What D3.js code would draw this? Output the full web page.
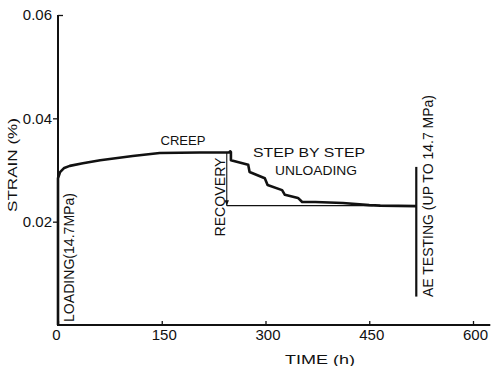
<!DOCTYPE html>
<html><head><meta charset="utf-8">
<script src="https://cdn.jsdelivr.net/npm/d3@7"></script>
<style>
body{margin:0;background:#fff}
svg text{font-family:"Liberation Sans",Arial,sans-serif;fill:#111}
</style>
</head><body>
<svg id="c" width="493" height="366"></svg>
<script>
// ---- data ----
const curveTime   = [0, 0, 3, 9, 17, 36, 61, 108, 147, 205, 247, 249, 250, 250, 275, 277, 299, 303, 324, 328, 347, 353, 372, 412, 450, 466, 518];
const curveStrain = [0, 0.0284, 0.0296, 0.0304, 0.0308, 0.0313, 0.0319, 0.0327, 0.0333, 0.0334, 0.0334, 0.0336, 0.0335, 0.0319, 0.0310, 0.0296, 0.0284, 0.0271, 0.0261, 0.0252, 0.0246, 0.0238, 0.0238, 0.0236, 0.0232, 0.0231, 0.0230];
const recoveryTime   = [244, 244];
const recoveryStrain = [0.0334, 0.0231];
const recoveredTime   = [244, 455];
const recoveredStrain = [0.0231, 0.0231];
const aeTime   = [518, 518];
const aeStrain = [0.0306, 0.0055];
const xTicks = [0, 150, 300, 450, 600];
const yTicks = [0.02, 0.04, 0.06];
const xDomain = [0, 600];
const yDomain = [0, 0.06];
const xAxisEnd = 625;

// ---- drawing ----
const svg = d3.select("#c");
const x = d3.scaleLinear().domain(xDomain).range([58, 473]);
const y = d3.scaleLinear().domain(yDomain).range([325, 15]);

// X axis
const gx = svg.append("g").attr("transform", `translate(0,${y(0)})`)
  .call(d3.axisBottom(x).tickValues(xTicks).tickSize(-4).tickPadding(4.5).tickFormat(d3.format("d")));
gx.select(".domain").remove();
gx.selectAll(".tick line").attr("stroke", "#111").attr("stroke-width", 1.3);
gx.selectAll(".tick text").attr("font-size", 15).attr("dx", d => d === 0 ? -2 : 2)
  .attr("font-family", "Liberation Sans, Arial, sans-serif").attr("fill", "#111");
svg.append("line").attr("x1", x(0) - 1).attr("x2", x(xAxisEnd)).attr("y1", y(0)).attr("y2", y(0))
  .attr("stroke", "#111").attr("stroke-width", 2);

// Y axis
const gy = svg.append("g").attr("transform", `translate(${x(0)},0)`)
  .call(d3.axisLeft(y).tickValues(yTicks).tickSize(5).tickPadding(1).tickFormat(d3.format(".2f")));
gy.select(".domain").remove();
gy.selectAll(".tick line").attr("stroke", "#111").attr("stroke-width", 1.3)
  .attr("x2", d => d === 0.06 ? 5 : -5);
gy.selectAll(".tick text").attr("font-size", 15)
  .attr("font-family", "Liberation Sans, Arial, sans-serif").attr("fill", "#111");
svg.append("line").attr("x1", x(0)).attr("x2", x(0)).attr("y1", y(0) + 1).attr("y2", y(0.06))
  .attr("stroke", "#111").attr("stroke-width", 2);

// Main curve
const line = d3.line().x(d => x(d[0])).y(d => y(d[1]));
svg.append("path").datum(curveTime.map((t, i) => [t, curveStrain[i]]))
  .attr("d", line).attr("fill", "none").attr("stroke", "#111")
  .attr("stroke-width", 2.6).attr("stroke-linejoin", "round");

// Recovery arrow
svg.append("defs").append("marker").attr("id", "arr").attr("viewBox", "0 0 10 10")
  .attr("refX", 10).attr("refY", 5).attr("markerWidth", 5).attr("markerHeight", 5)
  .attr("orient", "auto").append("path").attr("d", "M0,1 L10,5 L0,9 Z").attr("fill", "#111");
svg.append("path").datum(recoveryTime.map((t, i) => [t, recoveryStrain[i]]))
  .attr("d", line).attr("fill", "none").attr("stroke", "#111").attr("stroke-width", 1.1)
  .attr("marker-end", "url(#arr)");
svg.append("path").datum(recoveredTime.map((t, i) => [t, recoveredStrain[i]]))
  .attr("d", line).attr("fill", "none").attr("stroke", "#111").attr("stroke-width", 1.1);

// AE testing line
svg.append("path").datum(aeTime.map((t, i) => [t, aeStrain[i]]))
  .attr("d", line).attr("fill", "none").attr("stroke", "#111").attr("stroke-width", 2.2);

// Labels
function label(txt, px, py, size, len, rot, anchor) {
  const t = svg.append("text").text(txt).attr("font-size", size)
    .attr("text-anchor", anchor || "middle")
    .attr("transform", `translate(${px},${py})` + (rot ? ` rotate(${rot})` : ""));
  if (len) t.attr("textLength", len).attr("lengthAdjust", "spacingAndGlyphs");
  return t;
}
label("STRAIN (%)", 17, 165, 13.5, 94, -90);
label("TIME (h)", 320, 364, 13.5, 70, 0);
label("CREEP", 183, 145, 13.5, 45, 0);
label("STEP BY  STEP", 253, 157, 13.5, 112, 0, "start");
label("UNLOADING", 275, 175, 13.5, 82, 0, "start");
label("RECOVERY", 225, 197, 14, 79, -90);
label("LOADING(14.7MPa)", 74, 257.5, 14, 129, -90);
label("AE TESTING (UP TO 14.7 MPa)", 433, 196, 14, 202, -90);
</script>
</body></html>
